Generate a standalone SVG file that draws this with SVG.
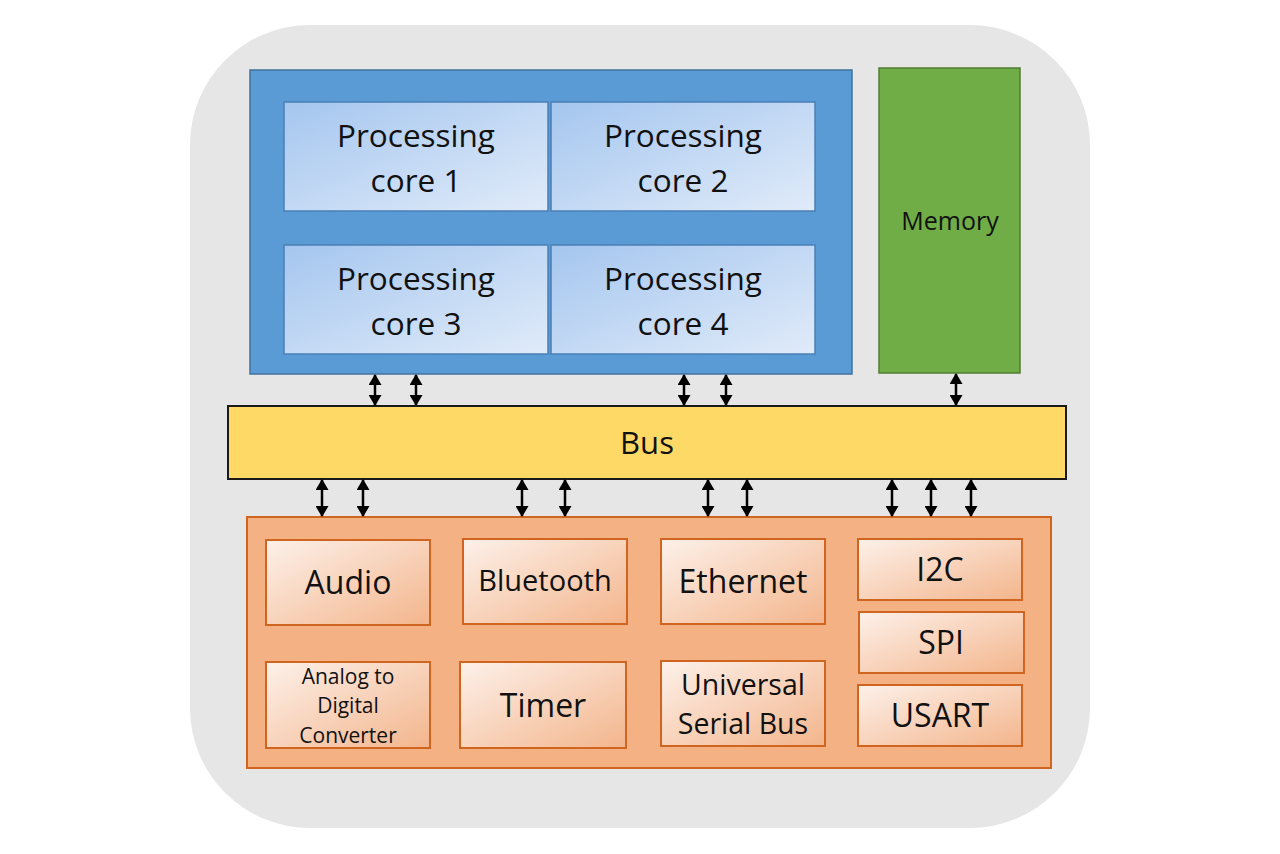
<svg xmlns="http://www.w3.org/2000/svg" width="1280" height="854" viewBox="0 0 1280 854">
<defs>
<linearGradient id="gCore" x1="0" y1="0" x2="1" y2="1">
<stop offset="0" stop-color="#a5c6ef"/>
<stop offset="1" stop-color="#e0ebf9"/>
</linearGradient>
<linearGradient id="gPer" x1="0" y1="0" x2="1" y2="1">
<stop offset="0" stop-color="#fdf1ea"/>
<stop offset="1" stop-color="#f3b58c"/>
</linearGradient>
<marker id="ah" viewBox="0 0 11 13" refX="10" refY="6.5" markerWidth="11" markerHeight="13" orient="auto-start-reverse" markerUnits="userSpaceOnUse">
<path d="M0,0 L11,6.5 L0,13 z" fill="#000"/>
</marker>
<style>
text{font-family:"Open Sans","Noto Sans","Liberation Sans",sans-serif;fill:#111;text-anchor:middle}
.core{fill:url(#gCore);stroke:#4a7fb5;stroke-width:1.5}
.per{fill:url(#gPer);stroke:#d0651f;stroke-width:2}
.arr{stroke:#000;stroke-width:2.5;fill:none;marker-start:url(#ah);marker-end:url(#ah)}
.core-t{font-size:31.5px}
.big{font-size:32px}
</style>
</defs>
<rect x="0" y="0" width="1280" height="854" fill="#fff"/>
<rect x="190" y="25" width="900" height="803" rx="120" ry="120" fill="#e6e6e6"/>

<g id="cpu">
<rect x="250" y="70" width="602" height="304" fill="#5b9bd5" stroke="#41719c" stroke-width="1.5"/>
</g>
<g id="core1"><rect class="core" x="284" y="102" width="264" height="109"/><text class="core-t" x="416" y="147">Processing</text><text class="core-t" x="416" y="192">core 1</text></g>
<g id="core2"><rect class="core" x="551" y="102" width="264" height="109"/><text class="core-t" x="683" y="147">Processing</text><text class="core-t" x="683" y="192">core 2</text></g>
<g id="core3"><rect class="core" x="284" y="245" width="264" height="109"/><text class="core-t" x="416" y="290">Processing</text><text class="core-t" x="416" y="335">core 3</text></g>
<g id="core4"><rect class="core" x="551" y="245" width="264" height="109"/><text class="core-t" x="683" y="290">Processing</text><text class="core-t" x="683" y="335">core 4</text></g>

<g id="memory"><rect x="879" y="68" width="141" height="305" fill="#70ad47" stroke="#507e32" stroke-width="1.5"/><text x="950" y="230" font-size="25px">Memory</text></g>

<g id="bus"><rect x="228" y="406" width="838" height="73" fill="#ffd966" stroke="#1a1a1a" stroke-width="2"/><text x="647" y="454" font-size="31px">Bus</text></g>

<g id="peripherals"><rect x="247" y="517" width="804" height="251" fill="#f4b183" stroke="#d0651f" stroke-width="2"/></g>
<g id="audio"><rect class="per" x="266" y="540" width="164" height="85"/><text class="big" x="348" y="594">Audio</text></g>
<g id="bluetooth"><rect class="per" x="463" y="539" width="164" height="85"/><text x="545" y="591" font-size="29px">Bluetooth</text></g>
<g id="ethernet"><rect class="per" x="661" y="539" width="164" height="85"/><text class="big" x="743" y="593">Ethernet</text></g>
<g id="i2c"><rect class="per" x="858" y="539" width="164" height="61"/><text class="big" x="940" y="581">I2C</text></g>
<g id="spi"><rect class="per" x="859" y="612" width="165" height="61"/><text class="big" x="941" y="654">SPI</text></g>
<g id="usart"><rect class="per" x="858" y="685" width="164" height="61"/><text class="big" x="940" y="727">USART</text></g>
<g id="adc"><rect class="per" x="266" y="662" width="164" height="86"/><text x="348" y="684" font-size="21px">Analog to</text><text x="348" y="713" font-size="21px">Digital</text><text x="348" y="743" font-size="21px">Converter</text></g>
<g id="timer"><rect class="per" x="460" y="662" width="166" height="86"/><text class="big" x="543" y="717">Timer</text></g>
<g id="usb"><rect class="per" x="661" y="661" width="164" height="85"/><text x="743" y="695" font-size="28.5px">Universal</text><text x="743" y="734" font-size="28.5px">Serial Bus</text></g>

<g id="connectors">
<line class="arr" x1="375" y1="375" x2="375" y2="405"/>
<line class="arr" x1="416" y1="375" x2="416" y2="405"/>
<line class="arr" x1="684" y1="375" x2="684" y2="405"/>
<line class="arr" x1="726" y1="375" x2="726" y2="405"/>
<line class="arr" x1="956" y1="374" x2="956" y2="405"/>
<line class="arr" x1="322" y1="480" x2="322" y2="516"/>
<line class="arr" x1="363" y1="480" x2="363" y2="516"/>
<line class="arr" x1="522" y1="480" x2="522" y2="516"/>
<line class="arr" x1="565" y1="480" x2="565" y2="516"/>
<line class="arr" x1="708" y1="480" x2="708" y2="516"/>
<line class="arr" x1="747" y1="480" x2="747" y2="516"/>
<line class="arr" x1="892" y1="480" x2="892" y2="516"/>
<line class="arr" x1="931" y1="480" x2="931" y2="516"/>
<line class="arr" x1="971" y1="480" x2="971" y2="516"/>
</g>
</svg>
